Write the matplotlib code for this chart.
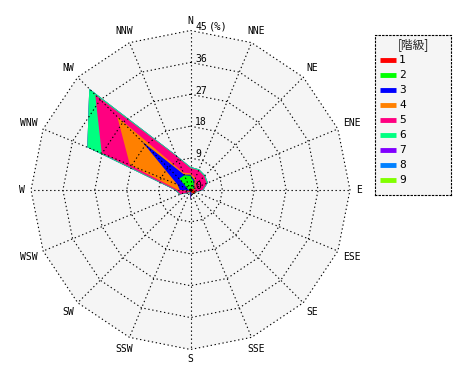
import numpy as np
import matplotlib
matplotlib.use("Agg")
import matplotlib.pyplot as plt

# 16 directions, clockwise from north
directions = ["N", "NNE", "NE", "ENE", "E", "ESE", "SE", "SSE",
              "S", "SSW", "SW", "WSW", "W", "WNW", "NW", "NNW"]

# frequency (%) per class, per direction
class_1 = [0.3, 0.3, 0.5, 0.8, 1.0, 1.5, 1.5, 0.8, 0.5, 0.3, 0.3, 0.3, 0.3, 0.3, 0.3, 0.3]
class_2 = [3.7, 2.2, 0.7, 0.2, 0.0, 0.0, 0.0, 0.0, 0.0, 0.0, 0.0, 0.0, 0.2, 0.5, 4.2, 4.2]
class_3 = [0.3, 0.5, 0.3, 0.2, 0.0, 0.0, 0.0, 0.0, 2.3, 0.0, 0.0, 0.2, 2.5, 3.2, 14.8, 0.2]
class_4 = [0.4, 0.6, 0.5, 0.3, 0.2, 0.0, 0.0, 0.0, 0.0, 0.2, 0.2, 0.5, 0.5, 14.5, 9.9, 0.6]
class_5 = [1.5, 2.4, 3.5, 3.5, 2.2, 0.0, 0.0, 0.0, 0.0, 0.0, 0.5, 2.1, 0.6, 8.6, 8.8, 5.0]
class_6 = [0.3, 0.3, 0.3, 0.3, 0.2, 0.2, 0.1, 0.1, 0.1, 0.1, 0.2, 0.2, 0.3, 4.4, 2.4, 0.3]
class_7 = [0.0] * 16
class_8 = [0.0] * 16
class_9 = [0.0] * 16

class_names = ["1", "2", "3", "4", "5", "6", "7", "8", "9"]
class_colors = ["#ff0000", "#00ff00", "#0000ff", "#ff8000", "#ff0080",
                "#00ff80", "#8000ff", "#0080ff", "#80ff00"]

rings = [9, 18, 27, 36, 45]
r_max = 45

# layout in pixels
W_PX, H_PX = 470, 380
CX, CY = 190.5, 190.0
R_PX = 159.5
k = R_PX / r_max  # px per %

MONO = "DejaVu Sans Mono"

fig = plt.figure(figsize=(W_PX / 100, H_PX / 100), dpi=100)
ax = fig.add_axes([0, 0, 1, 1])
ax.set_xlim(-CX / k, (W_PX - CX) / k)
ax.set_ylim(-(H_PX - CY) / k, CY / k)
ax.axis("off")

theta = np.deg2rad(np.arange(len(directions)) * 22.5)
sin_t, cos_t = np.sin(theta), np.cos(theta)

# background polygon
ax.fill(r_max * sin_t, r_max * cos_t, color="#f5f5f5", lw=0, zorder=0)

# stacked polygons, outermost class drawn first
data = np.array([class_1, class_2, class_3, class_4, class_5,
                 class_6, class_7, class_8, class_9])
cum = np.cumsum(data, axis=0)
for i in range(len(class_names) - 1, -1, -1):
    v = cum[i]
    if v.max() <= 0:
        continue
    ax.fill(v * sin_t, v * cos_t, color=class_colors[i], lw=0, zorder=1 + (9 - i))

# dotted grid
dot = dict(color="black", lw=0.8, ls=(0, (1.2, 2.4)), zorder=20)
for r in rings:
    ax.plot(np.append(r * sin_t, 0), np.append(r * cos_t, r), **dot)
for s, c in zip(sin_t, cos_t):
    ax.plot([0, r_max * s], [0, r_max * c], **dot)

# direction labels
char_w, half_h = 5.85, 4.0
for name, s, c in zip(directions, sin_t, cos_t):
    d = 6 + len(name) * char_w / 2 * abs(s) + half_h * abs(c)
    r = r_max + d / k
    ax.text(r * s, r * c, name, ha="center", va="center",
            fontsize=7, family=MONO, zorder=30)

# radial labels
for r in [0] + rings:
    ax.text(4.5 / k, r + 0.8 / k, str(r), ha="left", va="baseline",
            fontsize=7, family=MONO, zorder=30)
ax.text(18.5 / k, r_max + 0.8 / k, "(%)", ha="left", va="baseline",
        fontsize=7.5, family=MONO, zorder=30)

# legend box
lx0, ly0, lw_, lh_ = 375, 35, 76, 160
lax = fig.add_axes([lx0 / W_PX, 1 - (ly0 + lh_) / H_PX, lw_ / W_PX, lh_ / H_PX])
lax.set_xlim(0, lw_)
lax.set_ylim(lh_, 0)
lax.set_facecolor("#f5f5f5")
lax.set_xticks([])
lax.set_yticks([])
for sp in lax.spines.values():
    sp.set_linestyle((0, (1.2, 2.0)))
    sp.set_linewidth(0.8)
lax.text(lw_ / 2, 9.5, "[階級]", ha="center", va="center", fontsize=8.5,
         family=["Noto Sans CJK JP", "DejaVu Sans"], color="#222222")
for i, (name, col) in enumerate(zip(class_names, class_colors)):
    y = 25 + 15 * i
    lax.plot([5, 21], [y, y], color=col, lw=3.5, solid_capstyle="butt")
    lax.text(24, y, name, ha="left", va="center", fontsize=8, family=MONO)

fig.savefig("out.png", dpi=100)
